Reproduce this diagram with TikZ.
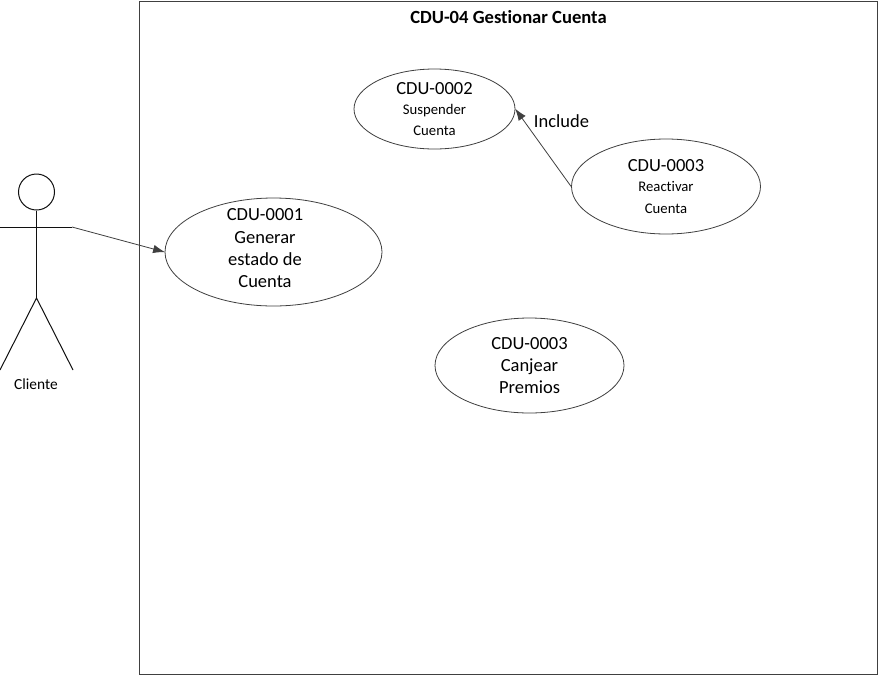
\documentclass[tikz,border=0pt]{standalone}
\usepackage{fontspec}
\setmainfont[Ligatures=CommonOff]{Carlito}
\usetikzlibrary{shapes.geometric}
\usetikzlibrary{arrows.meta}
\definecolor{color_usecase_line}{HTML}{404040}
\definecolor{color_actor_line}{HTML}{101010}
\def\usecasefont{\fontsize{18.5}{22.3}\selectfont}
\def\usecasesmallfont{\fontsize{14.7}{21}\selectfont}
\tikzset{
    usecase/.style={draw=color_usecase_line, ellipse, inner sep=0pt, line width=0.8pt, align=center, font=\usecasefont},
    actorline/.style={draw=color_actor_line, line width=1pt},
    includearrow/.style={draw=color_usecase_line, line width=0.8pt, -{Latex[length=12pt,width=8.5pt]}, shorten >=-0.5pt},
}
\begin{document}
\begin{tikzpicture}[x=1pt,y=-1pt]
        \useasboundingbox (0,0) rectangle (878,675);
        \fill[white] (0,0) rectangle (878,675);
        % system frame
        \node[draw=color_usecase_line, line width=0.9pt, minimum width=738pt, minimum height=673pt, inner sep=0pt] (frame) at (508,337.5) {};
        \node[font=\fontsize{18.6}{22}\selectfont\bfseries, inner sep=0pt] (title) at (508.5,17) {CDU-04 Gestionar Cuenta};
        % the use cases
        \node[usecase, minimum width=217pt, minimum height=108pt] (generar) at (273.5,252) {};
        \node[align=center, font=\usecasefont, inner sep=0pt] (generartext) at (265,248.5) {CDU-0001\\Generar\\estado de\\Cuenta};
        \node[usecase, minimum width=161pt, minimum height=80pt] (suspender) at (434.5,109) {CDU-0002\\[-2pt]{\usecasesmallfont Suspender}\\[-1pt]{\usecasesmallfont Cuenta}};
        \node[usecase, minimum width=189pt, minimum height=95pt] (reactivar) at (666,186.5) {CDU-0003\\[-2pt]{\usecasesmallfont Reactivar}\\[-1pt]{\usecasesmallfont Cuenta}};
        \node[usecase, minimum width=189pt, minimum height=95pt] (canjear) at (529.5,365.5) {CDU-0003\\Canjear\\Premios};
        \node[font=\usecasefont, inner sep=0pt] (include) at (561.5,121) {Include};
        % the actor
        \node[circle, actorline, minimum size=36pt, inner sep=0pt] (head) at (36.5,192) {};
        \coordinate (hip) at (36.5,298);
        \coordinate (armleft) at (0,227);
        \coordinate (armright) at (72,227);
        \coordinate (footleft) at (0,370);
        \coordinate (footright) at (73,370);
        \draw[actorline] (head.south) -- (hip);
        \draw[actorline] (armleft) -- (armright);
        \draw[actorline] (footleft) -- (hip) -- (footright);
        \node[font=\fontsize{15.4}{18}\selectfont, inner sep=0pt] (cliente) at (36,384) {Cliente};
        % connectors
        \draw[includearrow] (armright) -- (generar.west);
        \draw[includearrow] (reactivar.west) -- (suspender.east);
    \end{tikzpicture}
\end{document}
